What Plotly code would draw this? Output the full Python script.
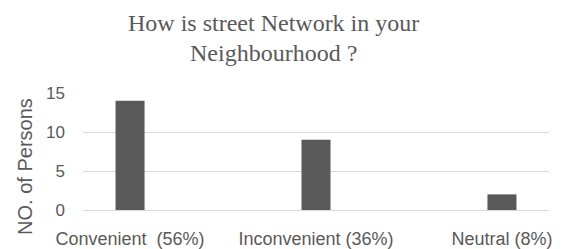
import plotly.graph_objects as go

categories = ["Convenient \u00a0(56%)", "Inconvenient (36%)", "Neutral (8%)"]
values = [14, 9, 2]
y_ticks = [0, 5, 10, 15]
title_lines = ["How is street Network in your", "Neighbourhood ?"]
y_title = "NO. of Persons"

xpos = list(range(len(categories)))

fig = go.Figure()
fig.add_trace(go.Bar(x=xpos, y=values, width=0.156,
                     marker=dict(color="#595959", line=dict(width=0)), showlegend=False))

for ty, t in zip([1.595, 1.34], title_lines):
    fig.add_annotation(text=t, xref="paper", yref="paper", x=0.409, y=ty,
                       xanchor="center", yanchor="middle", showarrow=False,
                       font=dict(family="Liberation Serif", size=24, color="#595959"))

fig.add_annotation(text=y_title, xref="paper", yref="paper", x=-0.125, y=0.375,
                   xanchor="center", yanchor="middle", textangle=-90, showarrow=False,
                   font=dict(family="Liberation Sans", size=20, color="#595959"))

fig.update_layout(
    width=562, height=249,
    margin=dict(l=83, r=13, t=93, b=39, autoexpand=False),
    paper_bgcolor="white", plot_bgcolor="white",
    font=dict(family="Liberation Sans", size=18, color="#595959"),
    xaxis=dict(range=[-0.253, 2.253], tickvals=xpos, ticktext=categories,
               showline=True, linecolor="#d9d9d9", linewidth=1, ticks="", automargin=False,
               ticklabelstandoff=12, zeroline=False,
               tickfont=dict(size=18, color="#595959"), showgrid=False),
    yaxis=dict(range=[0, 15], tickvals=y_ticks, showgrid=True, gridcolor="#d9d9d9",
               gridwidth=1, zeroline=False, ticks="", ticklabelstandoff=17, automargin=False,
               tickfont=dict(size=17, color="#595959")),
)
fig.write_html("out.html", config={"displayModeBar": False},
               post_script="document.body.style.margin='0';")
